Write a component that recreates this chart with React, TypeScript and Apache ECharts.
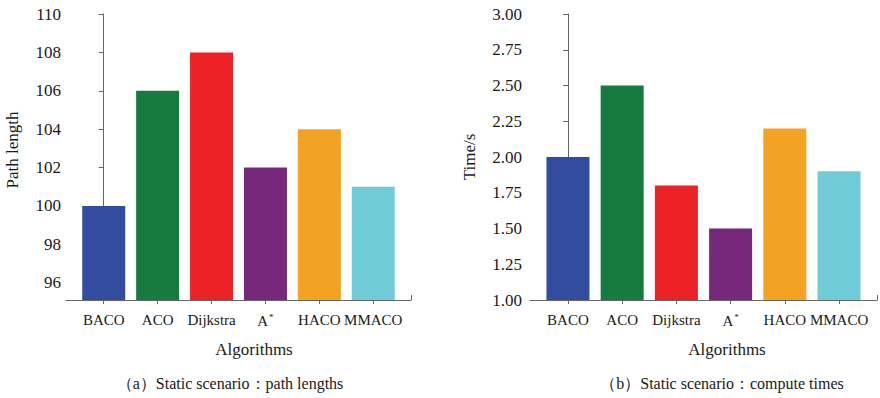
import React, { useEffect, useRef } from "react";
import * as echarts from "echarts";

const categories = ["BACO", "ACO", "Dijkstra", "A*", "HACO", "MMACO"];
const pathLengths = [100, 106, 108, 102, 104, 101];
const computeTimes = [2.0, 2.5, 1.8, 1.5, 2.2, 1.9];
const barColors = ["#324ca0", "#167b3f", "#ec2226", "#76287a", "#f4a223", "#6fcbd6"];
const leftTicks = [96, 98, 100, 102, 104, 106, 108, 110];
const xPositions = [0, 1, 2, 3, 4, 5];

const SERIF = "Liberation Serif";
const X_MIN = -0.7;
const X_MAX = 5.7;

function catLabel(v: number) {
  const name = categories[Math.round(v)] || "";
  if (name === "A*") return "A{sup|*}";
  return name;
}

export default function App() {
  const ref = useRef<HTMLDivElement>(null);
  useEffect(() => {
    document.body.style.margin = "0";
    const chart = echarts.init(ref.current!, null, { renderer: "svg" });
    const axisColor = "#666666";
    const labelColor = "#1a1a1a";

    const xAxisBase = (gridIndex: number) => ({
      type: "value",
      gridIndex,
      min: X_MIN,
      max: X_MAX,
      splitLine: { show: false },
      axisLine: { show: true, lineStyle: { color: axisColor, width: 1 } },
      axisTick: { show: true, length: 4, customValues: xPositions, lineStyle: { color: axisColor } },
      axisLabel: {
        customValues: xPositions,
        formatter: catLabel,
        color: labelColor,
        fontFamily: SERIF,
        fontSize: 15,
        margin: 12,
        rich: { sup: { fontSize: 9, fontFamily: SERIF, color: labelColor, verticalAlign: "top", padding: [0, 0, 8, 1] } },
      },
    });
    const xEndTick = (gridIndex: number) => ({
      type: "value",
      gridIndex,
      min: X_MIN,
      max: X_MAX,
      position: "bottom",
      splitLine: { show: false },
      axisLine: { show: false },
      axisTick: { show: true, inside: true, length: 5, customValues: [X_MAX], lineStyle: { color: axisColor } },
      axisLabel: { show: false },
    });

    const barData = (vals: number[]) =>
      vals.map((v, i) => ({ value: [xPositions[i], v], itemStyle: { color: barColors[i] } }));

    chart.setOption({
      animation: false,
      backgroundColor: "#ffffff",
      textStyle: { fontFamily: SERIF },
      grid: [
        { left: 66, top: 14, width: 345, height: 286 },
        { left: 530, top: 14, width: 347, height: 286 },
      ],
      xAxis: [xAxisBase(0), xAxisBase(1), xEndTick(0), xEndTick(1)],
      yAxis: [
        {
          type: "value",
          gridIndex: 0,
          min: 95.1,
          max: 110,
          splitLine: { show: false },
          axisLine: { show: true, lineStyle: { color: axisColor } },
          axisTick: { show: true, length: 5, customValues: leftTicks, lineStyle: { color: axisColor } },
          axisLabel: {
            customValues: leftTicks,
            color: labelColor,
            fontFamily: SERIF,
            fontSize: 17,
            margin: 5,
          },
          name: "Path length",
          nameLocation: "middle",
          nameGap: 45,
          nameRotate: 90,
          nameTextStyle: { color: labelColor, fontFamily: SERIF, fontSize: 17, padding: [0, 0, 0, 14] },
        },
        {
          type: "value",
          gridIndex: 1,
          min: 1,
          max: 3,
          interval: 0.25,
          splitLine: { show: false },
          axisLine: { show: true, lineStyle: { color: axisColor } },
          axisTick: { show: true, length: 5, lineStyle: { color: axisColor } },
          axisLabel: {
            color: labelColor,
            fontFamily: SERIF,
            fontSize: 17,
            margin: 8,
            formatter: (v: number) => v.toFixed(2),
          },
          name: "Time/s",
          nameLocation: "middle",
          nameGap: 52,
          nameRotate: 90,
          nameTextStyle: { color: labelColor, fontFamily: SERIF, fontSize: 17 },
        },
      ],
      series: [
        { type: "bar", xAxisIndex: 0, yAxisIndex: 0, barWidth: 43, data: barData(pathLengths) },
        { type: "bar", xAxisIndex: 1, yAxisIndex: 1, barWidth: 43, data: barData(computeTimes) },
      ],
      graphic: [
        { type: "text", x: 254, y: 349, style: { text: "Algorithms", fontFamily: SERIF, fontSize: 17, fill: labelColor, align: "center", verticalAlign: "middle" } },
        { type: "text", x: 727, y: 349, style: { text: "Algorithms", fontFamily: SERIF, fontSize: 17, fill: labelColor, align: "center", verticalAlign: "middle" } },
        { type: "text", x: 230, y: 383, style: { text: "（a）Static scenario：path lengths", fontFamily: SERIF, fontSize: 16, fill: labelColor, align: "center", verticalAlign: "middle" } },
        { type: "text", x: 722, y: 383, style: { text: "（b）Static scenario：compute times", fontFamily: SERIF, fontSize: 16, fill: labelColor, align: "center", verticalAlign: "middle" } },
      ],
    });
    return () => chart.dispose();
  }, []);
  return <div ref={ref} style={{ width: 880, height: 398 }} />;
}
